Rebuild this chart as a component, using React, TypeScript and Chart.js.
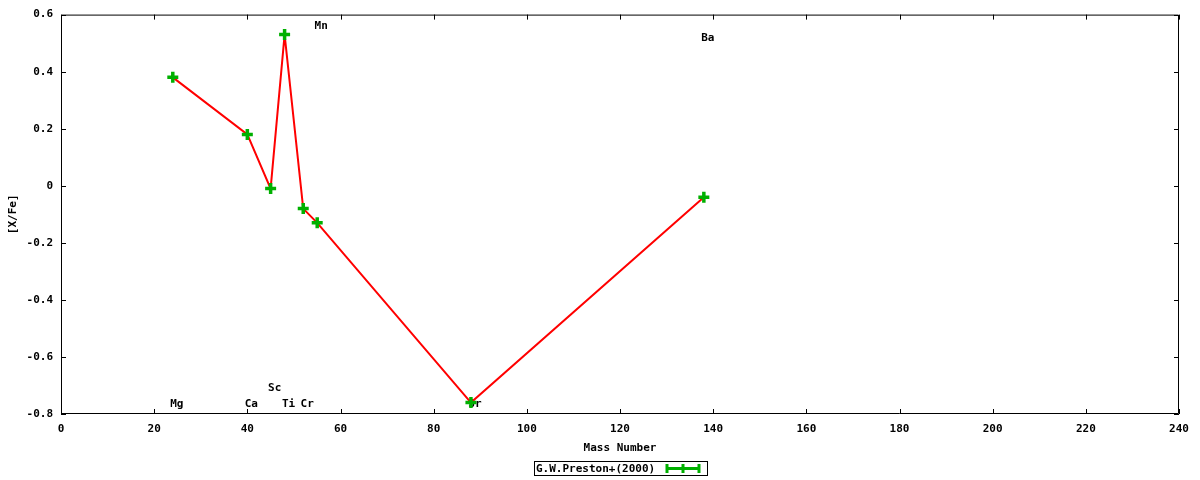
import React, { useEffect, useRef } from "react";
import { Chart, registerables } from "chart.js";

Chart.register(...registerables);

// ---- data ----
const elements = ["Mg", "Ca", "Sc", "Ti", "Cr", "Mn", "Sr", "Ba"];
const massNumbers = [24, 40, 45, 48, 52, 55, 88, 138];
const xFe = [0.38, 0.18, -0.01, 0.53, -0.08, -0.13, -0.76, -0.04];
const labelY = [-0.765, -0.765, -0.71, -0.765, -0.765, 0.558, -0.765, 0.516];
const seriesName = "G.W.Preston+(2000)";
const xAxisTitle = "Mass Number";
const yAxisTitle = "[X/Fe]";
const xMin = 0;
const xMax = 240;
const xStep = 20;
const yMin = -0.8;
const yMax = 0.6;
const yStep = 0.2;

const FONT_FAMILY = "'DejaVu Sans Mono', 'Liberation Mono', monospace";
const FONT = { family: FONT_FAMILY, size: 11, weight: "bold" as const };
const GREEN = "#00b000";
const RED = "#ff0000";

const framePlugin = {
  id: "gnuFrame",
  beforeDatasetsDraw(chart: any) {
    const { ctx, chartArea } = chart;
    const xs = chart.scales.x;
    const ys = chart.scales.y;
    const { left, right, top, bottom } = chartArea;
    ctx.save();
    ctx.strokeStyle = "#000";
    ctx.lineWidth = 1;
    ctx.beginPath();
    ctx.rect(left + 0.5, top + 0.5, right - left - 1, bottom - top - 1);
    ctx.stroke();
    const tl = 5;
    ctx.beginPath();
    for (let v = xMin; v <= xMax + 1e-9; v += xStep) {
      const px = Math.round(xs.getPixelForValue(v)) + 0.5;
      ctx.moveTo(px, bottom);
      ctx.lineTo(px, bottom - tl);
      ctx.moveTo(px, top);
      ctx.lineTo(px, top + tl);
    }
    for (let i = 0; i <= Math.round((yMax - yMin) / yStep); i++) {
      const v = yMin + i * yStep;
      const py = Math.round(ys.getPixelForValue(v)) + 0.5;
      ctx.moveTo(left, py);
      ctx.lineTo(left + tl, py);
      ctx.moveTo(right, py);
      ctx.lineTo(right - tl, py);
    }
    ctx.stroke();

    // element labels
    ctx.fillStyle = "#000";
    ctx.font = `bold 11px ${FONT_FAMILY}`;
    ctx.textAlign = "center";
    ctx.textBaseline = "middle";
    elements.forEach((el, i) => {
      ctx.fillText(el, xs.getPixelForValue(massNumbers[i]) + 4, ys.getPixelForValue(labelY[i]));
    });
    ctx.restore();
  },
  afterDraw(chart: any) {
    const { ctx } = chart;
    ctx.save();
    const boxL = 534.5, boxT = 461.5, boxW = 173, boxH = 14;
    ctx.strokeStyle = "#000";
    ctx.lineWidth = 1;
    ctx.strokeRect(boxL, boxT, boxW, boxH);
    ctx.fillStyle = "#000";
    ctx.font = `bold 11px ${FONT_FAMILY}`;
    ctx.textAlign = "left";
    ctx.textBaseline = "middle";
    ctx.fillText(seriesName, 536, 469);
    ctx.strokeStyle = GREEN;
    ctx.lineWidth = 3;
    ctx.beginPath();
    ctx.moveTo(666, 468.5);
    ctx.lineTo(700, 468.5);
    ctx.moveTo(667, 464);
    ctx.lineTo(667, 473);
    ctx.moveTo(683, 464);
    ctx.lineTo(683, 473);
    ctx.moveTo(699, 464);
    ctx.lineTo(699, 473);
    ctx.stroke();
    ctx.restore();
  },
};

export default function App() {
  const ref = useRef<HTMLCanvasElement | null>(null);
  useEffect(() => {
    if (!ref.current) return;
    const chart = new Chart(ref.current, {
      type: "scatter",
      data: {
        datasets: [
          {
            label: seriesName,
            data: massNumbers.map((m, i) => ({ x: m, y: xFe[i] })),
            showLine: true,
            borderColor: RED,
            borderWidth: 2,
            backgroundColor: GREEN,
            pointStyle: "cross",
            pointRadius: 5.5,
            pointBorderWidth: 3.5,
            pointBorderColor: GREEN,
            pointBackgroundColor: GREEN,
            tension: 0,
          },
        ],
      },
      options: {
        responsive: false,
        animation: false,
        devicePixelRatio: 1,
        layout: { padding: { left: 0, top: 14, right: 21, bottom: 0 } },
        plugins: { legend: { display: false }, tooltip: { enabled: false } },
        scales: {
          x: {
            type: "linear",
            min: xMin,
            max: xMax,
            ticks: { stepSize: xStep, color: "#000", font: FONT, padding: 9, maxRotation: 0 },
            grid: { display: false, drawTicks: false },
            border: { display: false },
            title: { display: true, text: xAxisTitle, color: "#000", font: FONT, padding: { top: 0, bottom: 25 } },
            afterFit: (s: any) => {
              s.height = 66;
            },
          },
          y: {
            type: "linear",
            min: yMin,
            max: yMax,
            ticks: {
              stepSize: yStep,
              color: "#000",
              font: FONT,
              padding: 8,
              callback: (v: any) => String(Number(Number(v).toFixed(1))),
            },
            grid: { display: false, drawTicks: false },
            border: { display: false },
            title: { display: true, text: yAxisTitle, color: "#000", font: FONT, padding: { top: 7, bottom: 0 } },
            afterFit: (s: any) => {
              s.width = 61;
            },
          },
        },
      },
      plugins: [framePlugin],
    });
    return () => chart.destroy();
  }, []);
  return (
    <div style={{ position: "fixed", left: 0, top: 0, width: 1200, height: 480, background: "#fff" }}>
      <canvas ref={ref} width={1200} height={480} style={{ width: 1200, height: 480 }} />
    </div>
  );
}
